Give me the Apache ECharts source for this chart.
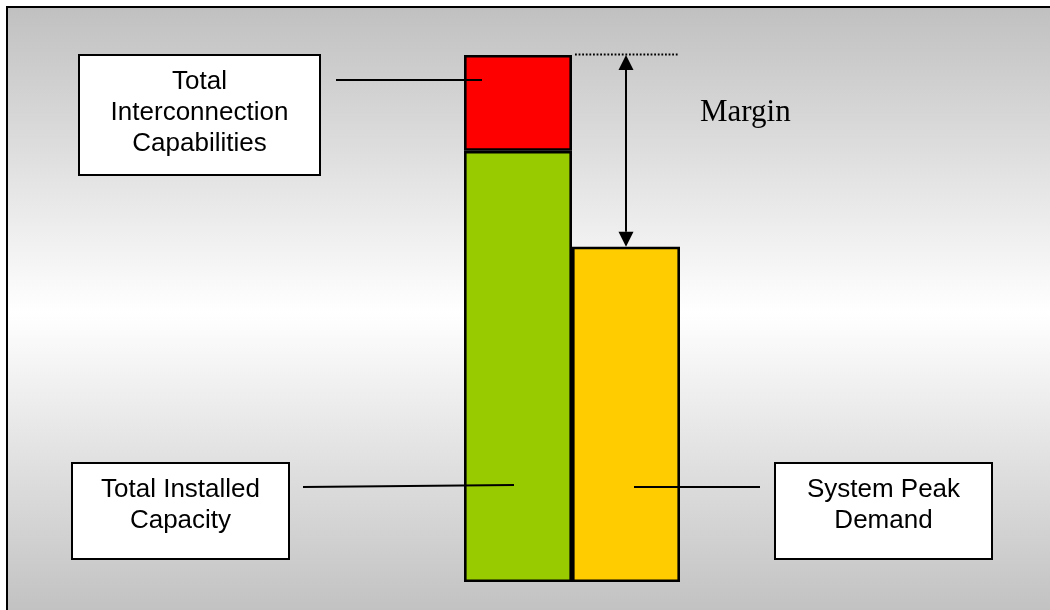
<!DOCTYPE html>
<html>
<head>
<meta charset="utf-8">
<script src="https://cdn.jsdelivr.net/npm/echarts@6/dist/echarts.min.js"></script>
<style>
  html, body { margin: 0; padding: 0; background: #ffffff; }
  #chart { width: 1050px; height: 610px; }
</style>
</head>
<body>
<div id="chart"></div>
<script>
// Capacity vs. demand: stacked supply column next to the peak-demand column
const categories = ['Supply', 'Demand'];
const installedCapacity = [45, '-'];
const interconnectionCapability = [10, '-'];
const systemPeakDemand = ['-', 35];
const axisMax = 55;

// Callout texts
const interconnectionLabel = ['Total', 'Interconnection', 'Capabilities'];
const installedLabel = ['Total Installed', 'Capacity'];
const peakLabel = ['System Peak', 'Demand'];
const marginLabel = 'Margin';

const chart = echarts.init(document.getElementById('chart'), null, { renderer: 'canvas' });

const barStyle = (color) => ({ color: color, borderColor: '#000000', borderWidth: 2.6 });

chart.setOption({
  backgroundColor: '#ffffff',
  animation: false,
  grid: { left: 464, top: 55, width: 216, height: 527, containLabel: false },
  xAxis: {
    type: 'category',
    data: categories,
    axisLine: { show: false }, axisTick: { show: false }, axisLabel: { show: false },
    splitLine: { show: false }
  },
  yAxis: {
    type: 'value', min: 0, max: axisMax,
    axisLine: { show: false }, axisTick: { show: false }, axisLabel: { show: false },
    splitLine: { show: false }
  },
  series: [
    { name: 'Total Installed Capacity', type: 'bar', stack: 'col', barWidth: '100%',
      data: installedCapacity, itemStyle: barStyle('#99cc00'), z: 3 },
    { name: 'Total Interconnection Capabilities', type: 'bar', stack: 'col', barWidth: '100%',
      data: interconnectionCapability, itemStyle: barStyle('#ff0000'), z: 3 },
    { name: 'System Peak Demand', type: 'bar', stack: 'col', barWidth: '100%',
      data: systemPeakDemand, itemStyle: barStyle('#ffcc00'), z: 3 }
  ]
});

// Pixel anchors taken from the chart's own scales
const px = (ci, v) => chart.convertToPixel({ gridIndex: 0 }, [ci, v]);
const supplyTop = px(0, installedCapacity[0] + interconnectionCapability[0]);
const demandTop = px(1, systemPeakDemand[1]);
const supplyX = px(0, 0)[0];
const demandX = px(1, 0)[0];
const bandW = demandX - supplyX;

const font = '26px "Liberation Sans", Arial, sans-serif';

function callout(x, y, w, h, lines) {
  return {
    type: 'group', z: 20,
    children: [
      { type: 'rect', shape: { x: x, y: y, width: w, height: h },
        style: { fill: '#ffffff', stroke: '#000000', lineWidth: 2 }, z: 20 },
      { type: 'text', z: 21,
        style: { x: x + w / 2, y: y + 11, text: lines.join('\n'), font: font,
                 fill: '#000000', align: 'center', verticalAlign: 'top', lineHeight: 31 } }
    ]
  };
}

function line(x1, y1, x2, y2, extra) {
  return Object.assign({ type: 'line', z: 22,
    shape: { x1: x1, y1: y1, x2: x2, y2: y2 },
    style: { stroke: '#000000', lineWidth: 1.8 } }, extra || {});
}

const arrowX = demandX;
const arrowTop = supplyTop[1];
const arrowBottom = demandTop[1];
const head = 15;

chart.setOption({
  graphic: [
    // framed panel with vertical grey-white-grey shading
    { type: 'rect', z: -10, silent: true,
      shape: { x: 7, y: 7, width: 1100, height: 612 },
      style: {
        stroke: '#000000', lineWidth: 2,
        fill: new echarts.graphic.LinearGradient(0, 0, 0, 1, [
          { offset: 0, color: '#c0c0c0' },
          { offset: 0.5, color: '#ffffff' },
          { offset: 1, color: '#c0c0c0' }
        ])
      } },
    callout(79, 55, 241, 120, interconnectionLabel),
    callout(72, 463, 217, 96, installedLabel),
    callout(775, 463, 217, 96, peakLabel),
    // leader lines
    line(336, 80, supplyX - 36, 80),
    line(303, 487, supplyX - 4, 485),
    line(demandX + 8, 487, 760, 487),
    // dotted level of total supply across the demand column
    line(supplyX + bandW / 2 + 3, arrowTop - 0.5, demandX + bandW / 2 - 2, arrowTop - 0.5,
         { style: { stroke: '#000000', lineWidth: 1.8, lineDash: [1.8, 1.8] } }),
    // double-headed margin arrow
    line(arrowX, arrowTop + head, arrowX, arrowBottom - head, { style: { stroke: '#000000', lineWidth: 2 } }),
    { type: 'polygon', z: 22,
      shape: { points: [[arrowX, arrowTop], [arrowX - 7.5, arrowTop + head], [arrowX + 7.5, arrowTop + head]] },
      style: { fill: '#000000' } },
    { type: 'polygon', z: 22,
      shape: { points: [[arrowX, arrowBottom], [arrowX - 7.5, arrowBottom - head], [arrowX + 7.5, arrowBottom - head]] },
      style: { fill: '#000000' } },
    { type: 'text', z: 22,
      style: { x: 700, y: 113, text: marginLabel, font: '31px "Liberation Serif", "Times New Roman", serif',
               fill: '#000000', align: 'left', verticalAlign: 'middle' } }
  ]
});
</script>
</body>
</html>
